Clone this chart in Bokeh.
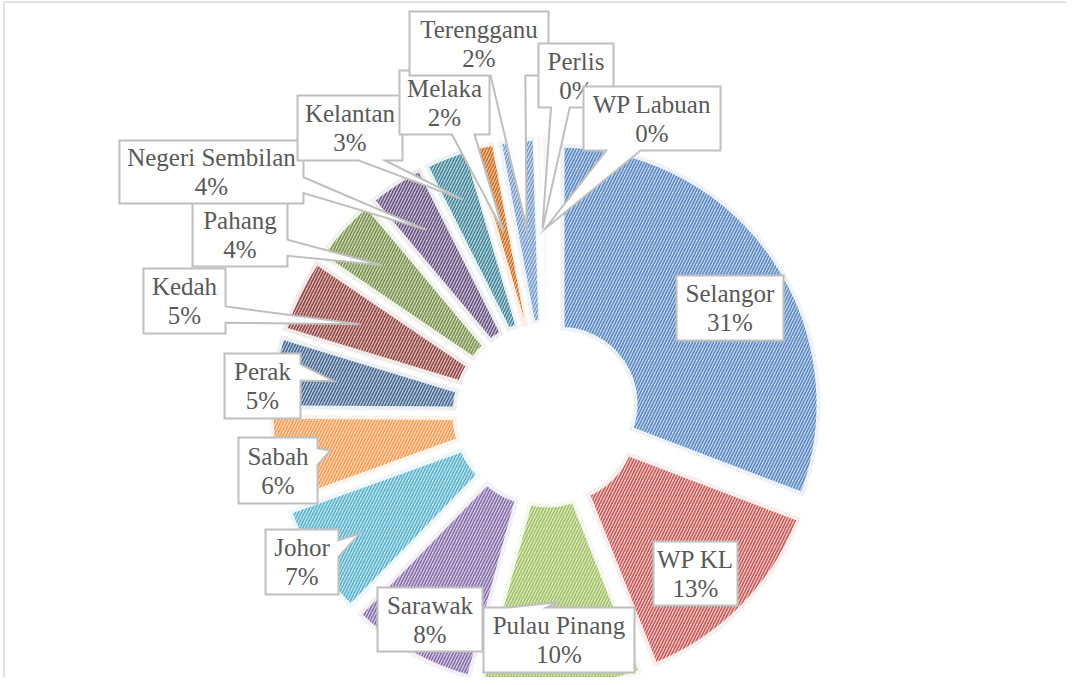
import numpy as np
from bokeh.plotting import figure
from bokeh.models import Range1d, ColumnDataSource
from bokeh.core.properties import value
from bokeh.embed import file_html
from bokeh.resources import INLINE

# ---------------- data ----------------
states = ["Selangor", "WP KL", "Pulau Pinang", "Sarawak", "Johor", "Sabah",
          "Perak", "Kedah", "Pahang", "Negeri Sembilan", "Kelantan",
          "Melaka", "Terengganu", "Perlis", "WP Labuan"]
shares = [30.8, 13.2, 10.2, 8.1, 7.2, 5.6, 4.6, 4.8, 4.4, 3.7, 2.9, 1.6, 2.4, 0.3, 0.2]

# ---------------- style ----------------
stripe_colors = ["#4F81BD", "#C0504D", "#9BBB59", "#8064A2", "#4BACC6", "#F79646",
                 "#385D8A", "#8C3836", "#71893F", "#5C4776", "#357D91", "#C0651B",
                 "#6A93C9", "#C0504D", "#9BBB59"]
back_colors = ["#C8D8EC", "#F0CBCA", "#DFEAC9", "#D8CFE5", "#C9E6F0", "#FCDABF",
               "#C1CDDC", "#DCBFBE", "#D2DBC1", "#CEC6D9", "#BED7DE", "#F5C7A0",
               "#D4E0F0", "#E8A9A8", "#DCE8C4"]
TEXT_COLOR = "#595959"
BOX_LINE = "#BFBFBF"
FONT = "Liberation Serif"

FIG_W, FIG_H = 1066, 677
CX, CY = 546.0, 413.0       # doughnut centre (pixels from top-left)
R_OUT, R_IN = 260.0, 73.0
EXPLODE = 17.0

# label boxes (pixels: x0, y0, x1, y1) and radius of the callout anchor
label_layout = {
    "Selangor":        (676, 275, 783, 340, 170),
    "WP KL":           (653, 541, 737, 605, 175),
    "Pulau Pinang":    (483, 607, 634, 672, 172),
    "Sarawak":         (377, 587, 482, 651, 188),
    "Johor":           (265, 529, 338, 594, 205),
    "Sabah":           (238, 437, 317, 503, 202),
    "Perak":           (224, 353, 300, 418, 198),
    "Kedah":           (143, 268, 225, 333, 190),
    "Pahang":          (192, 202, 287, 266, 204),
    "Negeri Sembilan": (119, 140, 303, 203, 203),
    "Kelantan":        (297, 95, 402, 160, 213),
    "Melaka":          (399, 70, 489, 134, 170),
    "Terengganu":      (409, 11, 548, 75, 170),
    "Perlis":          (538, 43, 613, 107, 168),
    "WP Labuan":       (583, 86, 720, 150, 168),
}


def Y(y):
    return FIG_H - y


vals = np.array(shares, dtype=float)
frac = vals / vals.sum()
ends = np.cumsum(frac) * 2 * np.pi
starts = ends - frac * 2 * np.pi
mids = (starts + ends) / 2
ox = CX + EXPLODE * np.sin(mids)
oy = CY - EXPLODE * np.cos(mids)

src = ColumnDataSource(dict(
    x=ox, y=[Y(v) for v in oy],
    start=np.pi / 2 - starts, end=np.pi / 2 - ends,
    fg=stripe_colors, bg=back_colors, name=states,
))

p = figure(width=FIG_W, height=FIG_H,
           x_range=Range1d(0, FIG_W), y_range=Range1d(0, FIG_H),
           output_backend="svg", toolbar_location=None, min_border=0)
p.axis.visible = False
p.grid.visible = False
p.outline_line_color = None
p.background_fill_color = "white"
p.border_fill_color = "white"

# chart frame (left & top)
p.segment(x0=[3.5, 3.5], y0=[0, Y(1.5)], x1=[3.5, FIG_W], y1=[Y(1.5), Y(1.5)],
          line_color="#D9D9D9", line_width=1.5)

p.annular_wedge(x="x", y="y", inner_radius=R_IN, outer_radius=R_OUT,
                start_angle="start", end_angle="end", direction="clock",
                fill_color="bg", hatch_pattern="/", hatch_color="fg",
                hatch_scale=6, hatch_weight=1.6, hatch_alpha=0.9,
                line_color="white", line_width=8, line_alpha=0.85,
                line_join="round", source=src)


def callout(x0, y0, x1, y1, tx, ty):
    w, h = x1 - x0, y1 - y0
    hc, vc = (x0 + x1) / 2, (y0 + y1) / 2
    if x0 <= tx <= x1 and y0 <= ty <= y1:
        return [(x0, y0), (x1, y0), (x1, y1), (x0, y1)]
    dx, dy = tx - hc, ty - vc
    dq = dx * h / w
    if abs(dy) > abs(dq):
        f1, f2 = (7, 10) if dx > 0 else (2, 5)
        a, b = x0 + w * f1 / 12, x0 + w * f2 / 12
        if dy < 0:
            return [(x0, y0), (a, y0), (tx, ty), (b, y0), (x1, y0), (x1, y1), (x0, y1)]
        return [(x0, y0), (x1, y0), (x1, y1), (b, y1), (tx, ty), (a, y1), (x0, y1)]
    f1, f2 = (7, 10) if dy > 0 else (2, 5)
    a, b = y0 + h * f1 / 12, y0 + h * f2 / 12
    if dx > 0:
        return [(x0, y0), (x1, y0), (x1, a), (tx, ty), (x1, b), (x1, y1), (x0, y1)]
    return [(x0, y0), (x1, y0), (x1, y1), (x0, y1), (x0, b), (tx, ty), (x0, a)]


for i, name in enumerate(states):
    x0, y0, x1, y1, rt = label_layout[name]
    tx = ox[i] + rt * np.sin(mids[i])
    ty = oy[i] - rt * np.cos(mids[i])
    pts = callout(x0, y0, x1, y1, tx, ty)
    p.patch([q[0] for q in pts], [Y(q[1]) for q in pts],
            fill_color="white", line_color=BOX_LINE, line_width=2, line_join="miter")
    pct = f"{int(round(frac[i] * 100))}%"
    xc, yc = (x0 + x1) / 2, (y0 + y1) / 2
    p.text(x=[xc, xc], y=[Y(yc - 14.5), Y(yc + 14.5)], text=[name, pct],
           text_font=value(FONT), text_font_size="25px", text_color=TEXT_COLOR,
           text_align="center", text_baseline="middle")

open("out.html", "w").write(file_html(p, INLINE))
